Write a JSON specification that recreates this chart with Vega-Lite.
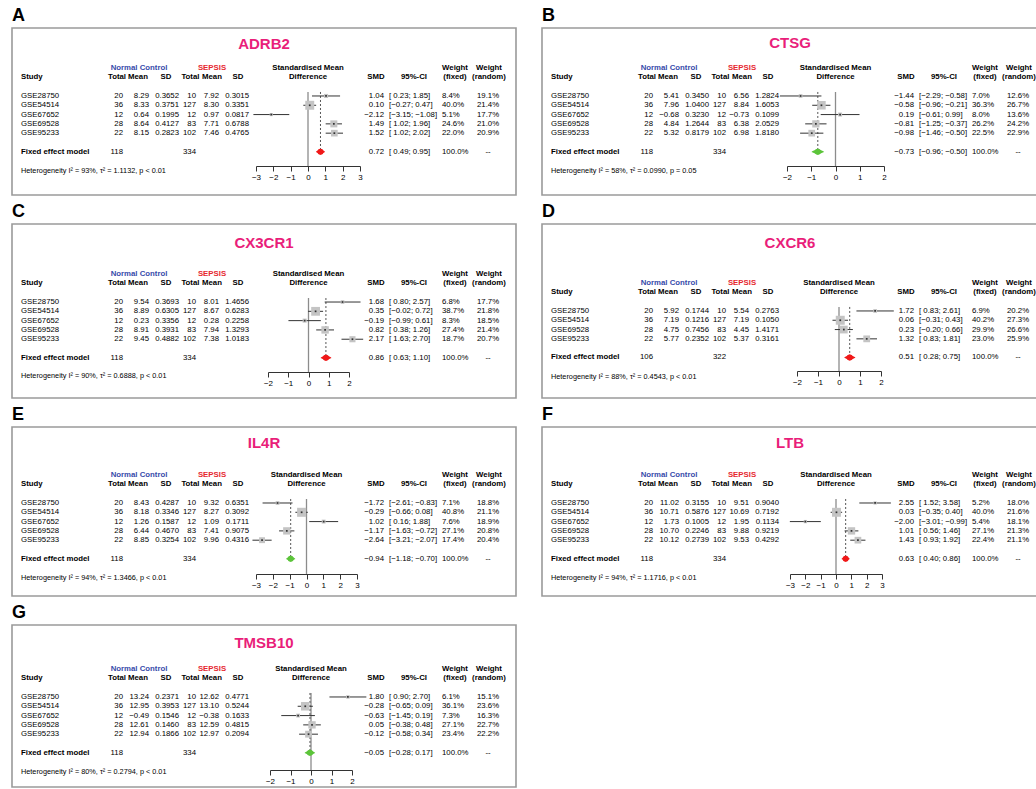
{
"$schema": "https://vega.github.io/schema/vega-lite/v6.json",
"background": "white",
"padding": {"left": 11, "top": 6, "right": 0, "bottom": 0},
"spacing": 6,
"datasets": {
"A": [
{"Study":"GSE28750","n1":20,"m1":8.29,"s1":0.3652,"n2":10,"m2":7.92,"s2":0.3015,"smd":1.04,"lo":0.23,"hi":1.85,"wf":8.4,"wr":19.1},
{"Study":"GSE54514","n1":36,"m1":8.33,"s1":0.3751,"n2":127,"m2":8.30,"s2":0.3351,"smd":0.10,"lo":-0.27,"hi":0.47,"wf":40.0,"wr":21.4},
{"Study":"GSE67652","n1":12,"m1":0.64,"s1":0.1995,"n2":12,"m2":0.97,"s2":0.0817,"smd":-2.12,"lo":-3.15,"hi":-1.08,"wf":5.1,"wr":17.7},
{"Study":"GSE69528","n1":28,"m1":8.64,"s1":0.4127,"n2":83,"m2":7.71,"s2":0.6788,"smd":1.49,"lo":1.02,"hi":1.96,"wf":24.6,"wr":21.0},
{"Study":"GSE95233","n1":22,"m1":8.15,"s1":0.2823,"n2":102,"m2":7.46,"s2":0.4765,"smd":1.52,"lo":1.02,"hi":2.02,"wf":22.0,"wr":20.9}],
"A_fixed": [{"n1":118,"n2":334,"smd":0.72,"lo":0.49,"hi":0.95,"I2":93,"tau2":1.1132,"p":"p < 0.01"}],
"B": [
{"Study":"GSE28750","n1":20,"m1":5.41,"s1":0.3450,"n2":10,"m2":6.56,"s2":1.2824,"smd":-1.44,"lo":-2.29,"hi":-0.58,"wf":7.0,"wr":12.6},
{"Study":"GSE54514","n1":36,"m1":7.96,"s1":1.0400,"n2":127,"m2":8.84,"s2":1.6053,"smd":-0.58,"lo":-0.96,"hi":-0.21,"wf":36.3,"wr":26.7},
{"Study":"GSE67652","n1":12,"m1":-0.68,"s1":0.3230,"n2":12,"m2":-0.73,"s2":0.1099,"smd":0.19,"lo":-0.61,"hi":0.99,"wf":8.0,"wr":13.6},
{"Study":"GSE69528","n1":28,"m1":4.84,"s1":1.2644,"n2":83,"m2":6.38,"s2":2.0529,"smd":-0.81,"lo":-1.25,"hi":-0.37,"wf":26.2,"wr":24.2},
{"Study":"GSE95233","n1":22,"m1":5.32,"s1":0.8179,"n2":102,"m2":6.98,"s2":1.8180,"smd":-0.98,"lo":-1.46,"hi":-0.50,"wf":22.5,"wr":22.9}],
"B_fixed": [{"n1":118,"n2":334,"smd":-0.73,"lo":-0.96,"hi":-0.50,"I2":58,"tau2":0.0990,"p":"p = 0.05"}],
"C": [
{"Study":"GSE28750","n1":20,"m1":9.54,"s1":0.3693,"n2":10,"m2":8.01,"s2":1.4656,"smd":1.68,"lo":0.80,"hi":2.57,"wf":6.8,"wr":17.7},
{"Study":"GSE54514","n1":36,"m1":8.89,"s1":0.6305,"n2":127,"m2":8.67,"s2":0.6283,"smd":0.35,"lo":-0.02,"hi":0.72,"wf":38.7,"wr":21.8},
{"Study":"GSE67652","n1":12,"m1":0.23,"s1":0.3356,"n2":12,"m2":0.28,"s2":0.2258,"smd":-0.19,"lo":-0.99,"hi":0.61,"wf":8.3,"wr":18.5},
{"Study":"GSE69528","n1":28,"m1":8.91,"s1":0.3931,"n2":83,"m2":7.94,"s2":1.3293,"smd":0.82,"lo":0.38,"hi":1.26,"wf":27.4,"wr":21.4},
{"Study":"GSE95233","n1":22,"m1":9.45,"s1":0.4882,"n2":102,"m2":7.38,"s2":1.0183,"smd":2.17,"lo":1.63,"hi":2.70,"wf":18.7,"wr":20.7}],
"C_fixed": [{"n1":118,"n2":334,"smd":0.86,"lo":0.63,"hi":1.10,"I2":90,"tau2":0.6888,"p":"p < 0.01"}],
"D": [
{"Study":"GSE28750","n1":20,"m1":5.92,"s1":0.1744,"n2":10,"m2":5.54,"s2":0.2763,"smd":1.72,"lo":0.83,"hi":2.61,"wf":6.9,"wr":20.2},
{"Study":"GSE54514","n1":36,"m1":7.19,"s1":0.1216,"n2":127,"m2":7.19,"s2":0.1050,"smd":0.06,"lo":-0.31,"hi":0.43,"wf":40.2,"wr":27.3},
{"Study":"GSE69528","n1":28,"m1":4.75,"s1":0.7456,"n2":83,"m2":4.45,"s2":1.4171,"smd":0.23,"lo":-0.20,"hi":0.66,"wf":29.9,"wr":26.6},
{"Study":"GSE95233","n1":22,"m1":5.77,"s1":0.2352,"n2":102,"m2":5.37,"s2":0.3161,"smd":1.32,"lo":0.83,"hi":1.81,"wf":23.0,"wr":25.9}],
"D_fixed": [{"n1":106,"n2":322,"smd":0.51,"lo":0.28,"hi":0.75,"I2":88,"tau2":0.4543,"p":"p < 0.01"}],
"E": [
{"Study":"GSE28750","n1":20,"m1":8.43,"s1":0.4287,"n2":10,"m2":9.32,"s2":0.6351,"smd":-1.72,"lo":-2.61,"hi":-0.83,"wf":7.1,"wr":18.8},
{"Study":"GSE54514","n1":36,"m1":8.18,"s1":0.3346,"n2":127,"m2":8.27,"s2":0.3092,"smd":-0.29,"lo":-0.66,"hi":0.08,"wf":40.8,"wr":21.1},
{"Study":"GSE67652","n1":12,"m1":1.26,"s1":0.1587,"n2":12,"m2":1.09,"s2":0.1711,"smd":1.02,"lo":0.16,"hi":1.88,"wf":7.6,"wr":18.9},
{"Study":"GSE69528","n1":28,"m1":6.44,"s1":0.4670,"n2":83,"m2":7.41,"s2":0.9075,"smd":-1.17,"lo":-1.63,"hi":-0.72,"wf":27.1,"wr":20.8},
{"Study":"GSE95233","n1":22,"m1":8.85,"s1":0.3254,"n2":102,"m2":9.96,"s2":0.4316,"smd":-2.64,"lo":-3.21,"hi":-2.07,"wf":17.4,"wr":20.4}],
"E_fixed": [{"n1":118,"n2":334,"smd":-0.94,"lo":-1.18,"hi":-0.70,"I2":94,"tau2":1.3466,"p":"p < 0.01"}],
"F": [
{"Study":"GSE28750","n1":20,"m1":11.02,"s1":0.3155,"n2":10,"m2":9.51,"s2":0.9040,"smd":2.55,"lo":1.52,"hi":3.58,"wf":5.2,"wr":18.0},
{"Study":"GSE54514","n1":36,"m1":10.71,"s1":0.5876,"n2":127,"m2":10.69,"s2":0.7192,"smd":0.03,"lo":-0.35,"hi":0.40,"wf":40.0,"wr":21.6},
{"Study":"GSE67652","n1":12,"m1":1.73,"s1":0.1005,"n2":12,"m2":1.95,"s2":0.1134,"smd":-2.00,"lo":-3.01,"hi":-0.99,"wf":5.4,"wr":18.1},
{"Study":"GSE69528","n1":28,"m1":10.70,"s1":0.2246,"n2":83,"m2":9.88,"s2":0.9219,"smd":1.01,"lo":0.56,"hi":1.46,"wf":27.1,"wr":21.3},
{"Study":"GSE95233","n1":22,"m1":10.12,"s1":0.2739,"n2":102,"m2":9.53,"s2":0.4292,"smd":1.43,"lo":0.93,"hi":1.92,"wf":22.4,"wr":21.1}],
"F_fixed": [{"n1":118,"n2":334,"smd":0.63,"lo":0.40,"hi":0.86,"I2":94,"tau2":1.1716,"p":"p < 0.01"}],
"G": [
{"Study":"GSE28750","n1":20,"m1":13.24,"s1":0.2371,"n2":10,"m2":12.62,"s2":0.4771,"smd":1.80,"lo":0.90,"hi":2.70,"wf":6.1,"wr":15.1},
{"Study":"GSE54514","n1":36,"m1":12.95,"s1":0.3953,"n2":127,"m2":13.10,"s2":0.5244,"smd":-0.28,"lo":-0.65,"hi":0.09,"wf":36.1,"wr":23.6},
{"Study":"GSE67652","n1":12,"m1":-0.49,"s1":0.1546,"n2":12,"m2":-0.38,"s2":0.1633,"smd":-0.63,"lo":-1.45,"hi":0.19,"wf":7.3,"wr":16.3},
{"Study":"GSE69528","n1":28,"m1":12.61,"s1":0.1460,"n2":83,"m2":12.59,"s2":0.4815,"smd":0.05,"lo":-0.38,"hi":0.48,"wf":27.1,"wr":22.7},
{"Study":"GSE95233","n1":22,"m1":12.94,"s1":0.1866,"n2":102,"m2":12.97,"s2":0.2094,"smd":-0.12,"lo":-0.58,"hi":0.34,"wf":23.4,"wr":22.2}],
"G_fixed": [{"n1":118,"n2":334,"smd":-0.05,"lo":-0.28,"hi":0.17,"I2":80,"tau2":0.2794,"p":"p < 0.01"}]
},
"vconcat": [
{"hconcat": [
{"title":"A","width":504,"height":167,"resolve":{"scale":{"x":"independent"}},
"layer":[
{"resolve":{"scale":{"size":"independent"}},"layer":[
{"data":{"name":"A_fixed"},"mark":{"type":"rule","color":"#8c8c8c","strokeWidth":1.3},"encoding":{"x":{"datum":0,"type":"quantitative","title":null,"scale":{"domain":[-3,3],"range":[244,348],"zero":false,"nice":false},"axis":{"values":[-3,-2,-1,0,1,2,3],"format":"d","offset":-29,"title":null}},"y":{"datum":0.57,"type":"quantitative","axis":null,"scale":{"domain":[-6.31,11.65],"reverse":true,"zero":false,"nice":false}},"y2":{"datum":8.53}}},
{"data":{"name":"A_fixed"},"mark":{"type":"rule","color":"#555555","strokeDash":[2,2]},"encoding":{"x":{"field":"smd","type":"quantitative","title":null},"y":{"datum":0.57,"axis":null},"y2":{"datum":6.8}}},
{"data":{"name":"A"},"transform":[{"window":[{"op":"row_number","as":"r"}]}],"encoding":{"y":{"field":"r","type":"quantitative","axis":null}},"layer":[
{"mark":{"type":"rule","color":"#333333"},"encoding":{"x":{"field":"lo","type":"quantitative","title":null},"x2":{"field":"hi"}}},
{"mark":{"type":"square","color":"#c4c4c4","opacity":1},"encoding":{"x":{"field":"smd","type":"quantitative","title":null},"size":{"field":"wf","type":"quantitative","scale":{"domain":[0,100],"range":[0,200]},"legend":null}}},
{"mark":{"type":"square","color":"#333333","size":3,"opacity":1},"encoding":{"x":{"field":"smd","type":"quantitative","title":null}}}]},
{"data":{"name":"A_fixed"},"transform":[{"fold":["lo","smd"],"as":["k","v"]}],"mark":{"type":"trail","color":"#f01818"},"encoding":{"x":{"field":"v","type":"quantitative","title":null},"y":{"datum":7,"axis":null},"size":{"field":"k","type":"ordinal","scale":{"type":"point","domain":["lo","smd"],"range":[0,6],"padding":0},"legend":null}}},
{"data":{"name":"A_fixed"},"transform":[{"fold":["hi","smd"],"as":["k","v"]}],"mark":{"type":"trail","color":"#f01818"},"encoding":{"x":{"field":"v","type":"quantitative","title":null},"y":{"datum":7,"axis":null},"size":{"field":"k","type":"ordinal","scale":{"type":"point","domain":["hi","smd"],"range":[0,6],"padding":0},"legend":null}}},
{"data":{"values":[{}]},"mark":{"type":"text","text":"Standardised Mean","fontWeight":"bold"},"encoding":{"x":{"datum":0},"y":{"datum":-2,"axis":null}}},
{"data":{"values":[{}]},"mark":{"type":"text","text":"Difference","fontWeight":"bold"},"encoding":{"x":{"datum":0},"y":{"datum":-1,"axis":null}}}]},
{"layer":[
{"data":{"values":[{}]},"layer":[
{"mark":{"type":"text","text":"ADRB2","fontSize":15,"fontWeight":"bold","color":"#e91e7a"},"encoding":{"x":{"datum":63,"axis":null,"scale":{"domain":[0,126],"zero":false,"nice":false}},"y":{"datum":-4.6,"axis":null}}},
{"encoding":{"y":{"datum":-2,"axis":null}},"layer":[
{"mark":{"type":"text","text":"Normal Control","fontWeight":"bold","color":"#374baa"},"encoding":{"x":{"datum":31.75,"axis":null}}},
{"mark":{"type":"text","text":"SEPSIS","fontWeight":"bold","color":"#e6282f"},"encoding":{"x":{"datum":50,"axis":null}}},
{"mark":{"type":"text","text":"Weight","fontWeight":"bold"},"encoding":{"x":{"datum":110.75,"axis":null}}},
{"mark":{"type":"text","text":"Weight","fontWeight":"bold"},"encoding":{"x":{"datum":119.25,"axis":null}}}]},
{"encoding":{"y":{"datum":-1,"axis":null}},"layer":[
{"mark":{"type":"text","text":"Study","fontWeight":"bold","align":"left"},"encoding":{"x":{"datum":2.25,"axis":null}}},
{"mark":{"type":"text","text":"Total","fontWeight":"bold"},"encoding":{"x":{"datum":26.25,"axis":null}}},
{"mark":{"type":"text","text":"Mean","fontWeight":"bold"},"encoding":{"x":{"datum":31.5,"axis":null}}},
{"mark":{"type":"text","text":"SD","fontWeight":"bold"},"encoding":{"x":{"datum":38.5,"axis":null}}},
{"mark":{"type":"text","text":"Total","fontWeight":"bold"},"encoding":{"x":{"datum":44.6,"axis":null}}},
{"mark":{"type":"text","text":"Mean","fontWeight":"bold"},"encoding":{"x":{"datum":50,"axis":null}}},
{"mark":{"type":"text","text":"SD","fontWeight":"bold"},"encoding":{"x":{"datum":56.5,"axis":null}}},
{"mark":{"type":"text","text":"SMD","fontWeight":"bold"},"encoding":{"x":{"datum":91,"axis":null}}},
{"mark":{"type":"text","text":"95%-CI","fontWeight":"bold"},"encoding":{"x":{"datum":100.5,"axis":null}}},
{"mark":{"type":"text","text":"(fixed)","fontWeight":"bold"},"encoding":{"x":{"datum":110.75,"axis":null}}},
{"mark":{"type":"text","text":"(random)","fontWeight":"bold"},"encoding":{"x":{"datum":119.25,"axis":null}}}]}]},
{"data":{"name":"A"},"transform":[{"window":[{"op":"row_number","as":"r"}]}],"encoding":{"y":{"field":"r","type":"quantitative","axis":null}},"layer":[
{"mark":{"type":"text","align":"left"},"encoding":{"x":{"datum":2.25,"axis":null},"text":{"field":"Study","type":"nominal"}}},
{"mark":{"type":"text","align":"right"},"encoding":{"x":{"datum":27.75,"axis":null},"text":{"field":"n1","type":"quantitative","format":"d"}}},
{"mark":{"type":"text","align":"right"},"encoding":{"x":{"datum":34.25,"axis":null},"text":{"field":"m1","type":"quantitative","format":".2f"}}},
{"mark":{"type":"text","align":"right"},"encoding":{"x":{"datum":41.75,"axis":null},"text":{"field":"s1","type":"quantitative","format":".4f"}}},
{"mark":{"type":"text","align":"right"},"encoding":{"x":{"datum":46,"axis":null},"text":{"field":"n2","type":"quantitative","format":"d"}}},
{"mark":{"type":"text","align":"right"},"encoding":{"x":{"datum":51.75,"axis":null},"text":{"field":"m2","type":"quantitative","format":".2f"}}},
{"mark":{"type":"text","align":"right"},"encoding":{"x":{"datum":59.25,"axis":null},"text":{"field":"s2","type":"quantitative","format":".4f"}}},
{"mark":{"type":"text","align":"right"},"encoding":{"x":{"datum":93,"axis":null},"text":{"field":"smd","type":"quantitative","format":".2f"}}},
{"mark":{"type":"text","align":"left","text":{"expr":"'[' + format(datum.lo, ' .2f') + '; ' + format(datum.hi, ' .2f') + ']'"}},"encoding":{"x":{"datum":94.25,"axis":null}}},
{"mark":{"type":"text","align":"left","text":{"expr":"format(datum.wf, '.1f') + '%'"}},"encoding":{"x":{"datum":107.5,"axis":null}}},
{"mark":{"type":"text","align":"center","text":{"expr":"format(datum.wr, '.1f') + '%'"}},"encoding":{"x":{"datum":119,"axis":null}}}]},
{"data":{"name":"A_fixed"},"encoding":{"y":{"datum":7,"axis":null}},"layer":[
{"mark":{"type":"text","align":"left","text":"Fixed effect model","fontWeight":"bold"},"encoding":{"x":{"datum":2.25,"axis":null}}},
{"mark":{"type":"text","align":"right"},"encoding":{"x":{"datum":27.75,"axis":null},"text":{"field":"n1","type":"quantitative","format":"d"}}},
{"mark":{"type":"text","align":"right"},"encoding":{"x":{"datum":46,"axis":null},"text":{"field":"n2","type":"quantitative","format":"d"}}},
{"mark":{"type":"text","align":"right"},"encoding":{"x":{"datum":93,"axis":null},"text":{"field":"smd","type":"quantitative","format":".2f"}}},
{"mark":{"type":"text","align":"left","text":{"expr":"'[' + format(datum.lo, ' .2f') + '; ' + format(datum.hi, ' .2f') + ']'"}},"encoding":{"x":{"datum":94.25,"axis":null}}},
{"mark":{"type":"text","align":"left","text":"100.0%"},"encoding":{"x":{"datum":107.5,"axis":null}}},
{"mark":{"type":"text","align":"center","text":"--"},"encoding":{"x":{"datum":119,"axis":null}}},
{"mark":{"type":"text","align":"left","fontSize":7.3,"text":{"expr":"'Heterogeneity I² = ' + datum.I2 + '%, τ² = ' + format(datum.tau2, '.4f') + ', ' + datum.p"}},"encoding":{"x":{"datum":2.25,"axis":null},"y":{"datum":9.06,"axis":null}}}]}]}]},
{"title":"B","width":496,"height":167,"resolve":{"scale":{"x":"independent"}},
"layer":[
{"resolve":{"scale":{"size":"independent"}},"layer":[
{"data":{"name":"B_fixed"},"mark":{"type":"rule","color":"#8c8c8c","strokeWidth":1.3},"encoding":{"x":{"datum":0,"type":"quantitative","title":null,"scale":{"domain":[-2,2],"range":[245,342],"zero":false,"nice":false},"axis":{"values":[-2,-1,0,1,2],"format":"d","offset":-29,"title":null}},"y":{"datum":0.57,"type":"quantitative","axis":null,"scale":{"domain":[-6.31,11.65],"reverse":true,"zero":false,"nice":false}},"y2":{"datum":8.53}}},
{"data":{"name":"B_fixed"},"mark":{"type":"rule","color":"#555555","strokeDash":[2,2]},"encoding":{"x":{"field":"smd","type":"quantitative","title":null},"y":{"datum":0.57,"axis":null},"y2":{"datum":6.8}}},
{"data":{"name":"B"},"transform":[{"window":[{"op":"row_number","as":"r"}]}],"encoding":{"y":{"field":"r","type":"quantitative","axis":null}},"layer":[
{"mark":{"type":"rule","color":"#333333"},"encoding":{"x":{"field":"lo","type":"quantitative","title":null},"x2":{"field":"hi"}}},
{"mark":{"type":"square","color":"#c4c4c4","opacity":1},"encoding":{"x":{"field":"smd","type":"quantitative","title":null},"size":{"field":"wf","type":"quantitative","scale":{"domain":[0,100],"range":[0,200]},"legend":null}}},
{"mark":{"type":"square","color":"#333333","size":3,"opacity":1},"encoding":{"x":{"field":"smd","type":"quantitative","title":null}}}]},
{"data":{"name":"B_fixed"},"transform":[{"fold":["lo","smd"],"as":["k","v"]}],"mark":{"type":"trail","color":"#5cc43a"},"encoding":{"x":{"field":"v","type":"quantitative","title":null},"y":{"datum":7,"axis":null},"size":{"field":"k","type":"ordinal","scale":{"type":"point","domain":["lo","smd"],"range":[0,6],"padding":0},"legend":null}}},
{"data":{"name":"B_fixed"},"transform":[{"fold":["hi","smd"],"as":["k","v"]}],"mark":{"type":"trail","color":"#5cc43a"},"encoding":{"x":{"field":"v","type":"quantitative","title":null},"y":{"datum":7,"axis":null},"size":{"field":"k","type":"ordinal","scale":{"type":"point","domain":["hi","smd"],"range":[0,6],"padding":0},"legend":null}}},
{"data":{"values":[{}]},"mark":{"type":"text","text":"Standardised Mean","fontWeight":"bold"},"encoding":{"x":{"datum":0},"y":{"datum":-2,"axis":null}}},
{"data":{"values":[{}]},"mark":{"type":"text","text":"Difference","fontWeight":"bold"},"encoding":{"x":{"datum":0},"y":{"datum":-1,"axis":null}}}]},
{"layer":[
{"data":{"values":[{}]},"layer":[
{"mark":{"type":"text","text":"CTSG","fontSize":15,"fontWeight":"bold","color":"#e91e7a"},"encoding":{"x":{"datum":62,"axis":null,"scale":{"domain":[0,124],"zero":false,"nice":false}},"y":{"datum":-4.7,"axis":null}}},
{"encoding":{"y":{"datum":-2,"axis":null}},"layer":[
{"mark":{"type":"text","text":"Normal Control","fontWeight":"bold","color":"#374baa"},"encoding":{"x":{"datum":31.75,"axis":null}}},
{"mark":{"type":"text","text":"SEPSIS","fontWeight":"bold","color":"#e6282f"},"encoding":{"x":{"datum":50,"axis":null}}},
{"mark":{"type":"text","text":"Weight","fontWeight":"bold"},"encoding":{"x":{"datum":110.75,"axis":null}}},
{"mark":{"type":"text","text":"Weight","fontWeight":"bold"},"encoding":{"x":{"datum":119.25,"axis":null}}}]},
{"encoding":{"y":{"datum":-1,"axis":null}},"layer":[
{"mark":{"type":"text","text":"Study","fontWeight":"bold","align":"left"},"encoding":{"x":{"datum":2.25,"axis":null}}},
{"mark":{"type":"text","text":"Total","fontWeight":"bold"},"encoding":{"x":{"datum":26.25,"axis":null}}},
{"mark":{"type":"text","text":"Mean","fontWeight":"bold"},"encoding":{"x":{"datum":31.5,"axis":null}}},
{"mark":{"type":"text","text":"SD","fontWeight":"bold"},"encoding":{"x":{"datum":38.5,"axis":null}}},
{"mark":{"type":"text","text":"Total","fontWeight":"bold"},"encoding":{"x":{"datum":44.6,"axis":null}}},
{"mark":{"type":"text","text":"Mean","fontWeight":"bold"},"encoding":{"x":{"datum":50,"axis":null}}},
{"mark":{"type":"text","text":"SD","fontWeight":"bold"},"encoding":{"x":{"datum":56.5,"axis":null}}},
{"mark":{"type":"text","text":"SMD","fontWeight":"bold"},"encoding":{"x":{"datum":91,"axis":null}}},
{"mark":{"type":"text","text":"95%-CI","fontWeight":"bold"},"encoding":{"x":{"datum":100.5,"axis":null}}},
{"mark":{"type":"text","text":"(fixed)","fontWeight":"bold"},"encoding":{"x":{"datum":110.75,"axis":null}}},
{"mark":{"type":"text","text":"(random)","fontWeight":"bold"},"encoding":{"x":{"datum":119.25,"axis":null}}}]}]},
{"data":{"name":"B"},"transform":[{"window":[{"op":"row_number","as":"r"}]}],"encoding":{"y":{"field":"r","type":"quantitative","axis":null}},"layer":[
{"mark":{"type":"text","align":"left"},"encoding":{"x":{"datum":2.25,"axis":null},"text":{"field":"Study","type":"nominal"}}},
{"mark":{"type":"text","align":"right"},"encoding":{"x":{"datum":27.75,"axis":null},"text":{"field":"n1","type":"quantitative","format":"d"}}},
{"mark":{"type":"text","align":"right"},"encoding":{"x":{"datum":34.25,"axis":null},"text":{"field":"m1","type":"quantitative","format":".2f"}}},
{"mark":{"type":"text","align":"right"},"encoding":{"x":{"datum":41.75,"axis":null},"text":{"field":"s1","type":"quantitative","format":".4f"}}},
{"mark":{"type":"text","align":"right"},"encoding":{"x":{"datum":46,"axis":null},"text":{"field":"n2","type":"quantitative","format":"d"}}},
{"mark":{"type":"text","align":"right"},"encoding":{"x":{"datum":51.75,"axis":null},"text":{"field":"m2","type":"quantitative","format":".2f"}}},
{"mark":{"type":"text","align":"right"},"encoding":{"x":{"datum":59.25,"axis":null},"text":{"field":"s2","type":"quantitative","format":".4f"}}},
{"mark":{"type":"text","align":"right"},"encoding":{"x":{"datum":93,"axis":null},"text":{"field":"smd","type":"quantitative","format":".2f"}}},
{"mark":{"type":"text","align":"left","text":{"expr":"'[' + format(datum.lo, ' .2f') + '; ' + format(datum.hi, ' .2f') + ']'"}},"encoding":{"x":{"datum":94.25,"axis":null}}},
{"mark":{"type":"text","align":"left","text":{"expr":"format(datum.wf, '.1f') + '%'"}},"encoding":{"x":{"datum":107.5,"axis":null}}},
{"mark":{"type":"text","align":"center","text":{"expr":"format(datum.wr, '.1f') + '%'"}},"encoding":{"x":{"datum":119,"axis":null}}}]},
{"data":{"name":"B_fixed"},"encoding":{"y":{"datum":7,"axis":null}},"layer":[
{"mark":{"type":"text","align":"left","text":"Fixed effect model","fontWeight":"bold"},"encoding":{"x":{"datum":2.25,"axis":null}}},
{"mark":{"type":"text","align":"right"},"encoding":{"x":{"datum":27.75,"axis":null},"text":{"field":"n1","type":"quantitative","format":"d"}}},
{"mark":{"type":"text","align":"right"},"encoding":{"x":{"datum":46,"axis":null},"text":{"field":"n2","type":"quantitative","format":"d"}}},
{"mark":{"type":"text","align":"right"},"encoding":{"x":{"datum":93,"axis":null},"text":{"field":"smd","type":"quantitative","format":".2f"}}},
{"mark":{"type":"text","align":"left","text":{"expr":"'[' + format(datum.lo, ' .2f') + '; ' + format(datum.hi, ' .2f') + ']'"}},"encoding":{"x":{"datum":94.25,"axis":null}}},
{"mark":{"type":"text","align":"left","text":"100.0%"},"encoding":{"x":{"datum":107.5,"axis":null}}},
{"mark":{"type":"text","align":"center","text":"--"},"encoding":{"x":{"datum":119,"axis":null}}},
{"mark":{"type":"text","align":"left","fontSize":7.3,"text":{"expr":"'Heterogeneity I² = ' + datum.I2 + '%, τ² = ' + format(datum.tau2, '.4f') + ', ' + datum.p"}},"encoding":{"x":{"datum":2.25,"axis":null},"y":{"datum":9.06,"axis":null}}}]}]}]}
],"spacing":24},
{"hconcat": [
{"title":"C","width":504,"height":174,"resolve":{"scale":{"x":"independent"}},
"layer":[
{"resolve":{"scale":{"size":"independent"}},"layer":[
{"data":{"name":"C_fixed"},"mark":{"type":"rule","color":"#8c8c8c","strokeWidth":1.3},"encoding":{"x":{"datum":0,"type":"quantitative","title":null,"scale":{"domain":[-2,2],"range":[256,337],"zero":false,"nice":false},"axis":{"values":[-2,-1,0,1,2],"format":"d","offset":-26,"title":null}},"y":{"datum":0.57,"type":"quantitative","axis":null,"scale":{"domain":[-7.39,11.32],"reverse":true,"zero":false,"nice":false}},"y2":{"datum":8.53}}},
{"data":{"name":"C_fixed"},"mark":{"type":"rule","color":"#555555","strokeDash":[2,2]},"encoding":{"x":{"field":"smd","type":"quantitative","title":null},"y":{"datum":0.57,"axis":null},"y2":{"datum":6.8}}},
{"data":{"name":"C"},"transform":[{"window":[{"op":"row_number","as":"r"}]}],"encoding":{"y":{"field":"r","type":"quantitative","axis":null}},"layer":[
{"mark":{"type":"rule","color":"#333333"},"encoding":{"x":{"field":"lo","type":"quantitative","title":null},"x2":{"field":"hi"}}},
{"mark":{"type":"square","color":"#c4c4c4","opacity":1},"encoding":{"x":{"field":"smd","type":"quantitative","title":null},"size":{"field":"wf","type":"quantitative","scale":{"domain":[0,100],"range":[0,200]},"legend":null}}},
{"mark":{"type":"square","color":"#333333","size":3,"opacity":1},"encoding":{"x":{"field":"smd","type":"quantitative","title":null}}}]},
{"data":{"name":"C_fixed"},"transform":[{"fold":["lo","smd"],"as":["k","v"]}],"mark":{"type":"trail","color":"#f01818"},"encoding":{"x":{"field":"v","type":"quantitative","title":null},"y":{"datum":7,"axis":null},"size":{"field":"k","type":"ordinal","scale":{"type":"point","domain":["lo","smd"],"range":[0,6],"padding":0},"legend":null}}},
{"data":{"name":"C_fixed"},"transform":[{"fold":["hi","smd"],"as":["k","v"]}],"mark":{"type":"trail","color":"#f01818"},"encoding":{"x":{"field":"v","type":"quantitative","title":null},"y":{"datum":7,"axis":null},"size":{"field":"k","type":"ordinal","scale":{"type":"point","domain":["hi","smd"],"range":[0,6],"padding":0},"legend":null}}},
{"data":{"values":[{}]},"mark":{"type":"text","text":"Standardised Mean","fontWeight":"bold"},"encoding":{"x":{"datum":0},"y":{"datum":-2,"axis":null}}},
{"data":{"values":[{}]},"mark":{"type":"text","text":"Difference","fontWeight":"bold"},"encoding":{"x":{"datum":0},"y":{"datum":-1,"axis":null}}}]},
{"layer":[
{"data":{"values":[{}]},"layer":[
{"mark":{"type":"text","text":"CX3CR1","fontSize":15,"fontWeight":"bold","color":"#e91e7a"},"encoding":{"x":{"datum":63,"axis":null,"scale":{"domain":[0,126],"zero":false,"nice":false}},"y":{"datum":-5.34,"axis":null}}},
{"encoding":{"y":{"datum":-2,"axis":null}},"layer":[
{"mark":{"type":"text","text":"Normal Control","fontWeight":"bold","color":"#374baa"},"encoding":{"x":{"datum":31.75,"axis":null}}},
{"mark":{"type":"text","text":"SEPSIS","fontWeight":"bold","color":"#e6282f"},"encoding":{"x":{"datum":50,"axis":null}}},
{"mark":{"type":"text","text":"Weight","fontWeight":"bold"},"encoding":{"x":{"datum":110.75,"axis":null}}},
{"mark":{"type":"text","text":"Weight","fontWeight":"bold"},"encoding":{"x":{"datum":119.25,"axis":null}}}]},
{"encoding":{"y":{"datum":-1,"axis":null}},"layer":[
{"mark":{"type":"text","text":"Study","fontWeight":"bold","align":"left"},"encoding":{"x":{"datum":2.25,"axis":null}}},
{"mark":{"type":"text","text":"Total","fontWeight":"bold"},"encoding":{"x":{"datum":26.25,"axis":null}}},
{"mark":{"type":"text","text":"Mean","fontWeight":"bold"},"encoding":{"x":{"datum":31.5,"axis":null}}},
{"mark":{"type":"text","text":"SD","fontWeight":"bold"},"encoding":{"x":{"datum":38.5,"axis":null}}},
{"mark":{"type":"text","text":"Total","fontWeight":"bold"},"encoding":{"x":{"datum":44.6,"axis":null}}},
{"mark":{"type":"text","text":"Mean","fontWeight":"bold"},"encoding":{"x":{"datum":50,"axis":null}}},
{"mark":{"type":"text","text":"SD","fontWeight":"bold"},"encoding":{"x":{"datum":56.5,"axis":null}}},
{"mark":{"type":"text","text":"SMD","fontWeight":"bold"},"encoding":{"x":{"datum":91,"axis":null}}},
{"mark":{"type":"text","text":"95%-CI","fontWeight":"bold"},"encoding":{"x":{"datum":100.5,"axis":null}}},
{"mark":{"type":"text","text":"(fixed)","fontWeight":"bold"},"encoding":{"x":{"datum":110.75,"axis":null}}},
{"mark":{"type":"text","text":"(random)","fontWeight":"bold"},"encoding":{"x":{"datum":119.25,"axis":null}}}]}]},
{"data":{"name":"C"},"transform":[{"window":[{"op":"row_number","as":"r"}]}],"encoding":{"y":{"field":"r","type":"quantitative","axis":null}},"layer":[
{"mark":{"type":"text","align":"left"},"encoding":{"x":{"datum":2.25,"axis":null},"text":{"field":"Study","type":"nominal"}}},
{"mark":{"type":"text","align":"right"},"encoding":{"x":{"datum":27.75,"axis":null},"text":{"field":"n1","type":"quantitative","format":"d"}}},
{"mark":{"type":"text","align":"right"},"encoding":{"x":{"datum":34.25,"axis":null},"text":{"field":"m1","type":"quantitative","format":".2f"}}},
{"mark":{"type":"text","align":"right"},"encoding":{"x":{"datum":41.75,"axis":null},"text":{"field":"s1","type":"quantitative","format":".4f"}}},
{"mark":{"type":"text","align":"right"},"encoding":{"x":{"datum":46,"axis":null},"text":{"field":"n2","type":"quantitative","format":"d"}}},
{"mark":{"type":"text","align":"right"},"encoding":{"x":{"datum":51.75,"axis":null},"text":{"field":"m2","type":"quantitative","format":".2f"}}},
{"mark":{"type":"text","align":"right"},"encoding":{"x":{"datum":59.25,"axis":null},"text":{"field":"s2","type":"quantitative","format":".4f"}}},
{"mark":{"type":"text","align":"right"},"encoding":{"x":{"datum":93,"axis":null},"text":{"field":"smd","type":"quantitative","format":".2f"}}},
{"mark":{"type":"text","align":"left","text":{"expr":"'[' + format(datum.lo, ' .2f') + '; ' + format(datum.hi, ' .2f') + ']'"}},"encoding":{"x":{"datum":94.25,"axis":null}}},
{"mark":{"type":"text","align":"left","text":{"expr":"format(datum.wf, '.1f') + '%'"}},"encoding":{"x":{"datum":107.5,"axis":null}}},
{"mark":{"type":"text","align":"center","text":{"expr":"format(datum.wr, '.1f') + '%'"}},"encoding":{"x":{"datum":119,"axis":null}}}]},
{"data":{"name":"C_fixed"},"encoding":{"y":{"datum":7,"axis":null}},"layer":[
{"mark":{"type":"text","align":"left","text":"Fixed effect model","fontWeight":"bold"},"encoding":{"x":{"datum":2.25,"axis":null}}},
{"mark":{"type":"text","align":"right"},"encoding":{"x":{"datum":27.75,"axis":null},"text":{"field":"n1","type":"quantitative","format":"d"}}},
{"mark":{"type":"text","align":"right"},"encoding":{"x":{"datum":46,"axis":null},"text":{"field":"n2","type":"quantitative","format":"d"}}},
{"mark":{"type":"text","align":"right"},"encoding":{"x":{"datum":93,"axis":null},"text":{"field":"smd","type":"quantitative","format":".2f"}}},
{"mark":{"type":"text","align":"left","text":{"expr":"'[' + format(datum.lo, ' .2f') + '; ' + format(datum.hi, ' .2f') + ']'"}},"encoding":{"x":{"datum":94.25,"axis":null}}},
{"mark":{"type":"text","align":"left","text":"100.0%"},"encoding":{"x":{"datum":107.5,"axis":null}}},
{"mark":{"type":"text","align":"center","text":"--"},"encoding":{"x":{"datum":119,"axis":null}}},
{"mark":{"type":"text","align":"left","fontSize":7.3,"text":{"expr":"'Heterogeneity I² = ' + datum.I2 + '%, τ² = ' + format(datum.tau2, '.4f') + ', ' + datum.p"}},"encoding":{"x":{"datum":2.25,"axis":null},"y":{"datum":8.96,"axis":null}}}]}]}]},
{"title":"D","width":496,"height":174,"resolve":{"scale":{"x":"independent"}},
"layer":[
{"resolve":{"scale":{"size":"independent"}},"layer":[
{"data":{"name":"D_fixed"},"mark":{"type":"rule","color":"#8c8c8c","strokeWidth":1.3},"encoding":{"x":{"datum":0,"type":"quantitative","title":null,"scale":{"domain":[-2,2],"range":[255,339],"zero":false,"nice":false},"axis":{"values":[-2,-1,0,1,2],"format":"d","offset":-27,"title":null}},"y":{"datum":0.57,"type":"quantitative","axis":null,"scale":{"domain":[-8.35,10.36],"reverse":true,"zero":false,"nice":false}},"y2":{"datum":7.45}}},
{"data":{"name":"D_fixed"},"mark":{"type":"rule","color":"#555555","strokeDash":[2,2]},"encoding":{"x":{"field":"smd","type":"quantitative","title":null},"y":{"datum":0.57,"axis":null},"y2":{"datum":5.8}}},
{"data":{"name":"D"},"transform":[{"window":[{"op":"row_number","as":"r"}]}],"encoding":{"y":{"field":"r","type":"quantitative","axis":null}},"layer":[
{"mark":{"type":"rule","color":"#333333"},"encoding":{"x":{"field":"lo","type":"quantitative","title":null},"x2":{"field":"hi"}}},
{"mark":{"type":"square","color":"#c4c4c4","opacity":1},"encoding":{"x":{"field":"smd","type":"quantitative","title":null},"size":{"field":"wf","type":"quantitative","scale":{"domain":[0,100],"range":[0,200]},"legend":null}}},
{"mark":{"type":"square","color":"#333333","size":3,"opacity":1},"encoding":{"x":{"field":"smd","type":"quantitative","title":null}}}]},
{"data":{"name":"D_fixed"},"transform":[{"fold":["lo","smd"],"as":["k","v"]}],"mark":{"type":"trail","color":"#f01818"},"encoding":{"x":{"field":"v","type":"quantitative","title":null},"y":{"datum":6,"axis":null},"size":{"field":"k","type":"ordinal","scale":{"type":"point","domain":["lo","smd"],"range":[0,6],"padding":0},"legend":null}}},
{"data":{"name":"D_fixed"},"transform":[{"fold":["hi","smd"],"as":["k","v"]}],"mark":{"type":"trail","color":"#f01818"},"encoding":{"x":{"field":"v","type":"quantitative","title":null},"y":{"datum":6,"axis":null},"size":{"field":"k","type":"ordinal","scale":{"type":"point","domain":["hi","smd"],"range":[0,6],"padding":0},"legend":null}}},
{"data":{"values":[{}]},"mark":{"type":"text","text":"Standardised Mean","fontWeight":"bold"},"encoding":{"x":{"datum":0},"y":{"datum":-2,"axis":null}}},
{"data":{"values":[{}]},"mark":{"type":"text","text":"Difference","fontWeight":"bold"},"encoding":{"x":{"datum":0},"y":{"datum":-1,"axis":null}}}]},
{"layer":[
{"data":{"values":[{}]},"layer":[
{"mark":{"type":"text","text":"CXCR6","fontSize":15,"fontWeight":"bold","color":"#e91e7a"},"encoding":{"x":{"datum":62,"axis":null,"scale":{"domain":[0,124],"zero":false,"nice":false}},"y":{"datum":-6.31,"axis":null}}},
{"encoding":{"y":{"datum":-2,"axis":null}},"layer":[
{"mark":{"type":"text","text":"Normal Control","fontWeight":"bold","color":"#374baa"},"encoding":{"x":{"datum":31.75,"axis":null}}},
{"mark":{"type":"text","text":"SEPSIS","fontWeight":"bold","color":"#e6282f"},"encoding":{"x":{"datum":50,"axis":null}}},
{"mark":{"type":"text","text":"Weight","fontWeight":"bold"},"encoding":{"x":{"datum":110.75,"axis":null}}},
{"mark":{"type":"text","text":"Weight","fontWeight":"bold"},"encoding":{"x":{"datum":119.25,"axis":null}}}]},
{"encoding":{"y":{"datum":-1,"axis":null}},"layer":[
{"mark":{"type":"text","text":"Study","fontWeight":"bold","align":"left"},"encoding":{"x":{"datum":2.25,"axis":null}}},
{"mark":{"type":"text","text":"Total","fontWeight":"bold"},"encoding":{"x":{"datum":26.25,"axis":null}}},
{"mark":{"type":"text","text":"Mean","fontWeight":"bold"},"encoding":{"x":{"datum":31.5,"axis":null}}},
{"mark":{"type":"text","text":"SD","fontWeight":"bold"},"encoding":{"x":{"datum":38.5,"axis":null}}},
{"mark":{"type":"text","text":"Total","fontWeight":"bold"},"encoding":{"x":{"datum":44.6,"axis":null}}},
{"mark":{"type":"text","text":"Mean","fontWeight":"bold"},"encoding":{"x":{"datum":50,"axis":null}}},
{"mark":{"type":"text","text":"SD","fontWeight":"bold"},"encoding":{"x":{"datum":56.5,"axis":null}}},
{"mark":{"type":"text","text":"SMD","fontWeight":"bold"},"encoding":{"x":{"datum":91,"axis":null}}},
{"mark":{"type":"text","text":"95%-CI","fontWeight":"bold"},"encoding":{"x":{"datum":100.5,"axis":null}}},
{"mark":{"type":"text","text":"(fixed)","fontWeight":"bold"},"encoding":{"x":{"datum":110.75,"axis":null}}},
{"mark":{"type":"text","text":"(random)","fontWeight":"bold"},"encoding":{"x":{"datum":119.25,"axis":null}}}]}]},
{"data":{"name":"D"},"transform":[{"window":[{"op":"row_number","as":"r"}]}],"encoding":{"y":{"field":"r","type":"quantitative","axis":null}},"layer":[
{"mark":{"type":"text","align":"left"},"encoding":{"x":{"datum":2.25,"axis":null},"text":{"field":"Study","type":"nominal"}}},
{"mark":{"type":"text","align":"right"},"encoding":{"x":{"datum":27.75,"axis":null},"text":{"field":"n1","type":"quantitative","format":"d"}}},
{"mark":{"type":"text","align":"right"},"encoding":{"x":{"datum":34.25,"axis":null},"text":{"field":"m1","type":"quantitative","format":".2f"}}},
{"mark":{"type":"text","align":"right"},"encoding":{"x":{"datum":41.75,"axis":null},"text":{"field":"s1","type":"quantitative","format":".4f"}}},
{"mark":{"type":"text","align":"right"},"encoding":{"x":{"datum":46,"axis":null},"text":{"field":"n2","type":"quantitative","format":"d"}}},
{"mark":{"type":"text","align":"right"},"encoding":{"x":{"datum":51.75,"axis":null},"text":{"field":"m2","type":"quantitative","format":".2f"}}},
{"mark":{"type":"text","align":"right"},"encoding":{"x":{"datum":59.25,"axis":null},"text":{"field":"s2","type":"quantitative","format":".4f"}}},
{"mark":{"type":"text","align":"right"},"encoding":{"x":{"datum":93,"axis":null},"text":{"field":"smd","type":"quantitative","format":".2f"}}},
{"mark":{"type":"text","align":"left","text":{"expr":"'[' + format(datum.lo, ' .2f') + '; ' + format(datum.hi, ' .2f') + ']'"}},"encoding":{"x":{"datum":94.25,"axis":null}}},
{"mark":{"type":"text","align":"left","text":{"expr":"format(datum.wf, '.1f') + '%'"}},"encoding":{"x":{"datum":107.5,"axis":null}}},
{"mark":{"type":"text","align":"center","text":{"expr":"format(datum.wr, '.1f') + '%'"}},"encoding":{"x":{"datum":119,"axis":null}}}]},
{"data":{"name":"D_fixed"},"encoding":{"y":{"datum":6,"axis":null}},"layer":[
{"mark":{"type":"text","align":"left","text":"Fixed effect model","fontWeight":"bold"},"encoding":{"x":{"datum":2.25,"axis":null}}},
{"mark":{"type":"text","align":"right"},"encoding":{"x":{"datum":27.75,"axis":null},"text":{"field":"n1","type":"quantitative","format":"d"}}},
{"mark":{"type":"text","align":"right"},"encoding":{"x":{"datum":46,"axis":null},"text":{"field":"n2","type":"quantitative","format":"d"}}},
{"mark":{"type":"text","align":"right"},"encoding":{"x":{"datum":93,"axis":null},"text":{"field":"smd","type":"quantitative","format":".2f"}}},
{"mark":{"type":"text","align":"left","text":{"expr":"'[' + format(datum.lo, ' .2f') + '; ' + format(datum.hi, ' .2f') + ']'"}},"encoding":{"x":{"datum":94.25,"axis":null}}},
{"mark":{"type":"text","align":"left","text":"100.0%"},"encoding":{"x":{"datum":107.5,"axis":null}}},
{"mark":{"type":"text","align":"center","text":"--"},"encoding":{"x":{"datum":119,"axis":null}}},
{"mark":{"type":"text","align":"left","fontSize":7.3,"text":{"expr":"'Heterogeneity I² = ' + datum.I2 + '%, τ² = ' + format(datum.tau2, '.4f') + ', ' + datum.p"}},"encoding":{"x":{"datum":2.25,"axis":null},"y":{"datum":8.1,"axis":null}}}]}]}]}
],"spacing":24},
{"hconcat": [
{"title":"E","width":504,"height":169,"resolve":{"scale":{"x":"independent"}},
"layer":[
{"resolve":{"scale":{"size":"independent"}},"layer":[
{"data":{"name":"E_fixed"},"mark":{"type":"rule","color":"#8c8c8c","strokeWidth":1.3},"encoding":{"x":{"datum":0,"type":"quantitative","title":null,"scale":{"domain":[-3,3],"range":[244,345],"zero":false,"nice":false},"axis":{"values":[-3,-2,-1,0,1,2,3],"format":"d","offset":-22,"title":null}},"y":{"datum":0.57,"type":"quantitative","axis":null,"scale":{"domain":[-7.17,11.0],"reverse":true,"zero":false,"nice":false}},"y2":{"datum":8.63}}},
{"data":{"name":"E_fixed"},"mark":{"type":"rule","color":"#555555","strokeDash":[2,2]},"encoding":{"x":{"field":"smd","type":"quantitative","title":null},"y":{"datum":0.57,"axis":null},"y2":{"datum":6.8}}},
{"data":{"name":"E"},"transform":[{"window":[{"op":"row_number","as":"r"}]}],"encoding":{"y":{"field":"r","type":"quantitative","axis":null}},"layer":[
{"mark":{"type":"rule","color":"#333333"},"encoding":{"x":{"field":"lo","type":"quantitative","title":null},"x2":{"field":"hi"}}},
{"mark":{"type":"square","color":"#c4c4c4","opacity":1},"encoding":{"x":{"field":"smd","type":"quantitative","title":null},"size":{"field":"wf","type":"quantitative","scale":{"domain":[0,100],"range":[0,200]},"legend":null}}},
{"mark":{"type":"square","color":"#333333","size":3,"opacity":1},"encoding":{"x":{"field":"smd","type":"quantitative","title":null}}}]},
{"data":{"name":"E_fixed"},"transform":[{"fold":["lo","smd"],"as":["k","v"]}],"mark":{"type":"trail","color":"#5cc43a"},"encoding":{"x":{"field":"v","type":"quantitative","title":null},"y":{"datum":7,"axis":null},"size":{"field":"k","type":"ordinal","scale":{"type":"point","domain":["lo","smd"],"range":[0,6],"padding":0},"legend":null}}},
{"data":{"name":"E_fixed"},"transform":[{"fold":["hi","smd"],"as":["k","v"]}],"mark":{"type":"trail","color":"#5cc43a"},"encoding":{"x":{"field":"v","type":"quantitative","title":null},"y":{"datum":7,"axis":null},"size":{"field":"k","type":"ordinal","scale":{"type":"point","domain":["hi","smd"],"range":[0,6],"padding":0},"legend":null}}},
{"data":{"values":[{}]},"mark":{"type":"text","text":"Standardised Mean","fontWeight":"bold"},"encoding":{"x":{"datum":0},"y":{"datum":-2,"axis":null}}},
{"data":{"values":[{}]},"mark":{"type":"text","text":"Difference","fontWeight":"bold"},"encoding":{"x":{"datum":0},"y":{"datum":-1,"axis":null}}}]},
{"layer":[
{"data":{"values":[{}]},"layer":[
{"mark":{"type":"text","text":"IL4R","fontSize":15,"fontWeight":"bold","color":"#e91e7a"},"encoding":{"x":{"datum":63,"axis":null,"scale":{"domain":[0,126],"zero":false,"nice":false}},"y":{"datum":-5.45,"axis":null}}},
{"encoding":{"y":{"datum":-2,"axis":null}},"layer":[
{"mark":{"type":"text","text":"Normal Control","fontWeight":"bold","color":"#374baa"},"encoding":{"x":{"datum":31.75,"axis":null}}},
{"mark":{"type":"text","text":"SEPSIS","fontWeight":"bold","color":"#e6282f"},"encoding":{"x":{"datum":50,"axis":null}}},
{"mark":{"type":"text","text":"Weight","fontWeight":"bold"},"encoding":{"x":{"datum":110.75,"axis":null}}},
{"mark":{"type":"text","text":"Weight","fontWeight":"bold"},"encoding":{"x":{"datum":119.25,"axis":null}}}]},
{"encoding":{"y":{"datum":-1,"axis":null}},"layer":[
{"mark":{"type":"text","text":"Study","fontWeight":"bold","align":"left"},"encoding":{"x":{"datum":2.25,"axis":null}}},
{"mark":{"type":"text","text":"Total","fontWeight":"bold"},"encoding":{"x":{"datum":26.25,"axis":null}}},
{"mark":{"type":"text","text":"Mean","fontWeight":"bold"},"encoding":{"x":{"datum":31.5,"axis":null}}},
{"mark":{"type":"text","text":"SD","fontWeight":"bold"},"encoding":{"x":{"datum":38.5,"axis":null}}},
{"mark":{"type":"text","text":"Total","fontWeight":"bold"},"encoding":{"x":{"datum":44.6,"axis":null}}},
{"mark":{"type":"text","text":"Mean","fontWeight":"bold"},"encoding":{"x":{"datum":50,"axis":null}}},
{"mark":{"type":"text","text":"SD","fontWeight":"bold"},"encoding":{"x":{"datum":56.5,"axis":null}}},
{"mark":{"type":"text","text":"SMD","fontWeight":"bold"},"encoding":{"x":{"datum":91,"axis":null}}},
{"mark":{"type":"text","text":"95%-CI","fontWeight":"bold"},"encoding":{"x":{"datum":100.5,"axis":null}}},
{"mark":{"type":"text","text":"(fixed)","fontWeight":"bold"},"encoding":{"x":{"datum":110.75,"axis":null}}},
{"mark":{"type":"text","text":"(random)","fontWeight":"bold"},"encoding":{"x":{"datum":119.25,"axis":null}}}]}]},
{"data":{"name":"E"},"transform":[{"window":[{"op":"row_number","as":"r"}]}],"encoding":{"y":{"field":"r","type":"quantitative","axis":null}},"layer":[
{"mark":{"type":"text","align":"left"},"encoding":{"x":{"datum":2.25,"axis":null},"text":{"field":"Study","type":"nominal"}}},
{"mark":{"type":"text","align":"right"},"encoding":{"x":{"datum":27.75,"axis":null},"text":{"field":"n1","type":"quantitative","format":"d"}}},
{"mark":{"type":"text","align":"right"},"encoding":{"x":{"datum":34.25,"axis":null},"text":{"field":"m1","type":"quantitative","format":".2f"}}},
{"mark":{"type":"text","align":"right"},"encoding":{"x":{"datum":41.75,"axis":null},"text":{"field":"s1","type":"quantitative","format":".4f"}}},
{"mark":{"type":"text","align":"right"},"encoding":{"x":{"datum":46,"axis":null},"text":{"field":"n2","type":"quantitative","format":"d"}}},
{"mark":{"type":"text","align":"right"},"encoding":{"x":{"datum":51.75,"axis":null},"text":{"field":"m2","type":"quantitative","format":".2f"}}},
{"mark":{"type":"text","align":"right"},"encoding":{"x":{"datum":59.25,"axis":null},"text":{"field":"s2","type":"quantitative","format":".4f"}}},
{"mark":{"type":"text","align":"right"},"encoding":{"x":{"datum":93,"axis":null},"text":{"field":"smd","type":"quantitative","format":".2f"}}},
{"mark":{"type":"text","align":"left","text":{"expr":"'[' + format(datum.lo, ' .2f') + '; ' + format(datum.hi, ' .2f') + ']'"}},"encoding":{"x":{"datum":94.25,"axis":null}}},
{"mark":{"type":"text","align":"left","text":{"expr":"format(datum.wf, '.1f') + '%'"}},"encoding":{"x":{"datum":107.5,"axis":null}}},
{"mark":{"type":"text","align":"center","text":{"expr":"format(datum.wr, '.1f') + '%'"}},"encoding":{"x":{"datum":119,"axis":null}}}]},
{"data":{"name":"E_fixed"},"encoding":{"y":{"datum":7,"axis":null}},"layer":[
{"mark":{"type":"text","align":"left","text":"Fixed effect model","fontWeight":"bold"},"encoding":{"x":{"datum":2.25,"axis":null}}},
{"mark":{"type":"text","align":"right"},"encoding":{"x":{"datum":27.75,"axis":null},"text":{"field":"n1","type":"quantitative","format":"d"}}},
{"mark":{"type":"text","align":"right"},"encoding":{"x":{"datum":46,"axis":null},"text":{"field":"n2","type":"quantitative","format":"d"}}},
{"mark":{"type":"text","align":"right"},"encoding":{"x":{"datum":93,"axis":null},"text":{"field":"smd","type":"quantitative","format":".2f"}}},
{"mark":{"type":"text","align":"left","text":{"expr":"'[' + format(datum.lo, ' .2f') + '; ' + format(datum.hi, ' .2f') + ']'"}},"encoding":{"x":{"datum":94.25,"axis":null}}},
{"mark":{"type":"text","align":"left","text":"100.0%"},"encoding":{"x":{"datum":107.5,"axis":null}}},
{"mark":{"type":"text","align":"center","text":"--"},"encoding":{"x":{"datum":119,"axis":null}}},
{"mark":{"type":"text","align":"left","fontSize":7.3,"text":{"expr":"'Heterogeneity I² = ' + datum.I2 + '%, τ² = ' + format(datum.tau2, '.4f') + ', ' + datum.p"}},"encoding":{"x":{"datum":2.25,"axis":null},"y":{"datum":9.06,"axis":null}}}]}]}]},
{"title":"F","width":496,"height":169,"resolve":{"scale":{"x":"independent"}},
"layer":[
{"resolve":{"scale":{"size":"independent"}},"layer":[
{"data":{"name":"F_fixed"},"mark":{"type":"rule","color":"#8c8c8c","strokeWidth":1.3},"encoding":{"x":{"datum":0,"type":"quantitative","title":null,"scale":{"domain":[-3,3],"range":[248,340],"zero":false,"nice":false},"axis":{"values":[-3,-2,-1,0,1,2,3],"format":"d","offset":-22,"title":null}},"y":{"datum":0.57,"type":"quantitative","axis":null,"scale":{"domain":[-7.17,11.0],"reverse":true,"zero":false,"nice":false}},"y2":{"datum":8.63}}},
{"data":{"name":"F_fixed"},"mark":{"type":"rule","color":"#555555","strokeDash":[2,2]},"encoding":{"x":{"field":"smd","type":"quantitative","title":null},"y":{"datum":0.57,"axis":null},"y2":{"datum":6.8}}},
{"data":{"name":"F"},"transform":[{"window":[{"op":"row_number","as":"r"}]}],"encoding":{"y":{"field":"r","type":"quantitative","axis":null}},"layer":[
{"mark":{"type":"rule","color":"#333333"},"encoding":{"x":{"field":"lo","type":"quantitative","title":null},"x2":{"field":"hi"}}},
{"mark":{"type":"square","color":"#c4c4c4","opacity":1},"encoding":{"x":{"field":"smd","type":"quantitative","title":null},"size":{"field":"wf","type":"quantitative","scale":{"domain":[0,100],"range":[0,200]},"legend":null}}},
{"mark":{"type":"square","color":"#333333","size":3,"opacity":1},"encoding":{"x":{"field":"smd","type":"quantitative","title":null}}}]},
{"data":{"name":"F_fixed"},"transform":[{"fold":["lo","smd"],"as":["k","v"]}],"mark":{"type":"trail","color":"#f01818"},"encoding":{"x":{"field":"v","type":"quantitative","title":null},"y":{"datum":7,"axis":null},"size":{"field":"k","type":"ordinal","scale":{"type":"point","domain":["lo","smd"],"range":[0,6],"padding":0},"legend":null}}},
{"data":{"name":"F_fixed"},"transform":[{"fold":["hi","smd"],"as":["k","v"]}],"mark":{"type":"trail","color":"#f01818"},"encoding":{"x":{"field":"v","type":"quantitative","title":null},"y":{"datum":7,"axis":null},"size":{"field":"k","type":"ordinal","scale":{"type":"point","domain":["hi","smd"],"range":[0,6],"padding":0},"legend":null}}},
{"data":{"values":[{}]},"mark":{"type":"text","text":"Standardised Mean","fontWeight":"bold"},"encoding":{"x":{"datum":0},"y":{"datum":-2,"axis":null}}},
{"data":{"values":[{}]},"mark":{"type":"text","text":"Difference","fontWeight":"bold"},"encoding":{"x":{"datum":0},"y":{"datum":-1,"axis":null}}}]},
{"layer":[
{"data":{"values":[{}]},"layer":[
{"mark":{"type":"text","text":"LTB","fontSize":15,"fontWeight":"bold","color":"#e91e7a"},"encoding":{"x":{"datum":62,"axis":null,"scale":{"domain":[0,124],"zero":false,"nice":false}},"y":{"datum":-5.45,"axis":null}}},
{"encoding":{"y":{"datum":-2,"axis":null}},"layer":[
{"mark":{"type":"text","text":"Normal Control","fontWeight":"bold","color":"#374baa"},"encoding":{"x":{"datum":31.75,"axis":null}}},
{"mark":{"type":"text","text":"SEPSIS","fontWeight":"bold","color":"#e6282f"},"encoding":{"x":{"datum":50,"axis":null}}},
{"mark":{"type":"text","text":"Weight","fontWeight":"bold"},"encoding":{"x":{"datum":110.75,"axis":null}}},
{"mark":{"type":"text","text":"Weight","fontWeight":"bold"},"encoding":{"x":{"datum":119.25,"axis":null}}}]},
{"encoding":{"y":{"datum":-1,"axis":null}},"layer":[
{"mark":{"type":"text","text":"Study","fontWeight":"bold","align":"left"},"encoding":{"x":{"datum":2.25,"axis":null}}},
{"mark":{"type":"text","text":"Total","fontWeight":"bold"},"encoding":{"x":{"datum":26.25,"axis":null}}},
{"mark":{"type":"text","text":"Mean","fontWeight":"bold"},"encoding":{"x":{"datum":31.5,"axis":null}}},
{"mark":{"type":"text","text":"SD","fontWeight":"bold"},"encoding":{"x":{"datum":38.5,"axis":null}}},
{"mark":{"type":"text","text":"Total","fontWeight":"bold"},"encoding":{"x":{"datum":44.6,"axis":null}}},
{"mark":{"type":"text","text":"Mean","fontWeight":"bold"},"encoding":{"x":{"datum":50,"axis":null}}},
{"mark":{"type":"text","text":"SD","fontWeight":"bold"},"encoding":{"x":{"datum":56.5,"axis":null}}},
{"mark":{"type":"text","text":"SMD","fontWeight":"bold"},"encoding":{"x":{"datum":91,"axis":null}}},
{"mark":{"type":"text","text":"95%-CI","fontWeight":"bold"},"encoding":{"x":{"datum":100.5,"axis":null}}},
{"mark":{"type":"text","text":"(fixed)","fontWeight":"bold"},"encoding":{"x":{"datum":110.75,"axis":null}}},
{"mark":{"type":"text","text":"(random)","fontWeight":"bold"},"encoding":{"x":{"datum":119.25,"axis":null}}}]}]},
{"data":{"name":"F"},"transform":[{"window":[{"op":"row_number","as":"r"}]}],"encoding":{"y":{"field":"r","type":"quantitative","axis":null}},"layer":[
{"mark":{"type":"text","align":"left"},"encoding":{"x":{"datum":2.25,"axis":null},"text":{"field":"Study","type":"nominal"}}},
{"mark":{"type":"text","align":"right"},"encoding":{"x":{"datum":27.75,"axis":null},"text":{"field":"n1","type":"quantitative","format":"d"}}},
{"mark":{"type":"text","align":"right"},"encoding":{"x":{"datum":34.25,"axis":null},"text":{"field":"m1","type":"quantitative","format":".2f"}}},
{"mark":{"type":"text","align":"right"},"encoding":{"x":{"datum":41.75,"axis":null},"text":{"field":"s1","type":"quantitative","format":".4f"}}},
{"mark":{"type":"text","align":"right"},"encoding":{"x":{"datum":46,"axis":null},"text":{"field":"n2","type":"quantitative","format":"d"}}},
{"mark":{"type":"text","align":"right"},"encoding":{"x":{"datum":51.75,"axis":null},"text":{"field":"m2","type":"quantitative","format":".2f"}}},
{"mark":{"type":"text","align":"right"},"encoding":{"x":{"datum":59.25,"axis":null},"text":{"field":"s2","type":"quantitative","format":".4f"}}},
{"mark":{"type":"text","align":"right"},"encoding":{"x":{"datum":93,"axis":null},"text":{"field":"smd","type":"quantitative","format":".2f"}}},
{"mark":{"type":"text","align":"left","text":{"expr":"'[' + format(datum.lo, ' .2f') + '; ' + format(datum.hi, ' .2f') + ']'"}},"encoding":{"x":{"datum":94.25,"axis":null}}},
{"mark":{"type":"text","align":"left","text":{"expr":"format(datum.wf, '.1f') + '%'"}},"encoding":{"x":{"datum":107.5,"axis":null}}},
{"mark":{"type":"text","align":"center","text":{"expr":"format(datum.wr, '.1f') + '%'"}},"encoding":{"x":{"datum":119,"axis":null}}}]},
{"data":{"name":"F_fixed"},"encoding":{"y":{"datum":7,"axis":null}},"layer":[
{"mark":{"type":"text","align":"left","text":"Fixed effect model","fontWeight":"bold"},"encoding":{"x":{"datum":2.25,"axis":null}}},
{"mark":{"type":"text","align":"right"},"encoding":{"x":{"datum":27.75,"axis":null},"text":{"field":"n1","type":"quantitative","format":"d"}}},
{"mark":{"type":"text","align":"right"},"encoding":{"x":{"datum":46,"axis":null},"text":{"field":"n2","type":"quantitative","format":"d"}}},
{"mark":{"type":"text","align":"right"},"encoding":{"x":{"datum":93,"axis":null},"text":{"field":"smd","type":"quantitative","format":".2f"}}},
{"mark":{"type":"text","align":"left","text":{"expr":"'[' + format(datum.lo, ' .2f') + '; ' + format(datum.hi, ' .2f') + ']'"}},"encoding":{"x":{"datum":94.25,"axis":null}}},
{"mark":{"type":"text","align":"left","text":"100.0%"},"encoding":{"x":{"datum":107.5,"axis":null}}},
{"mark":{"type":"text","align":"center","text":"--"},"encoding":{"x":{"datum":119,"axis":null}}},
{"mark":{"type":"text","align":"left","fontSize":7.3,"text":{"expr":"'Heterogeneity I² = ' + datum.I2 + '%, τ² = ' + format(datum.tau2, '.4f') + ', ' + datum.p"}},"encoding":{"x":{"datum":2.25,"axis":null},"y":{"datum":9.06,"axis":null}}}]}]}]}
],"spacing":24},
{"title":"G","width":504,"height":162,"resolve":{"scale":{"x":"independent"}},
"layer":[
{"resolve":{"scale":{"size":"independent"}},"layer":[
{"data":{"name":"G_fixed"},"mark":{"type":"rule","color":"#8c8c8c","strokeWidth":1.3},"encoding":{"x":{"datum":0,"type":"quantitative","title":null,"scale":{"domain":[-2,2],"range":[258,340],"zero":false,"nice":false},"axis":{"values":[-2,-1,0,1,2],"format":"d","offset":-17,"title":null}},"y":{"datum":0.57,"type":"quantitative","axis":null,"scale":{"domain":[-6.74,10.68],"reverse":true,"zero":false,"nice":false}},"y2":{"datum":8.85}}},
{"data":{"name":"G_fixed"},"mark":{"type":"rule","color":"#555555","strokeDash":[2,2]},"encoding":{"x":{"field":"smd","type":"quantitative","title":null},"y":{"datum":0.57,"axis":null},"y2":{"datum":6.8}}},
{"data":{"name":"G"},"transform":[{"window":[{"op":"row_number","as":"r"}]}],"encoding":{"y":{"field":"r","type":"quantitative","axis":null}},"layer":[
{"mark":{"type":"rule","color":"#333333"},"encoding":{"x":{"field":"lo","type":"quantitative","title":null},"x2":{"field":"hi"}}},
{"mark":{"type":"square","color":"#c4c4c4","opacity":1},"encoding":{"x":{"field":"smd","type":"quantitative","title":null},"size":{"field":"wf","type":"quantitative","scale":{"domain":[0,100],"range":[0,200]},"legend":null}}},
{"mark":{"type":"square","color":"#333333","size":3,"opacity":1},"encoding":{"x":{"field":"smd","type":"quantitative","title":null}}}]},
{"data":{"name":"G_fixed"},"transform":[{"fold":["lo","smd"],"as":["k","v"]}],"mark":{"type":"trail","color":"#5cc43a"},"encoding":{"x":{"field":"v","type":"quantitative","title":null},"y":{"datum":7,"axis":null},"size":{"field":"k","type":"ordinal","scale":{"type":"point","domain":["lo","smd"],"range":[0,6],"padding":0},"legend":null}}},
{"data":{"name":"G_fixed"},"transform":[{"fold":["hi","smd"],"as":["k","v"]}],"mark":{"type":"trail","color":"#5cc43a"},"encoding":{"x":{"field":"v","type":"quantitative","title":null},"y":{"datum":7,"axis":null},"size":{"field":"k","type":"ordinal","scale":{"type":"point","domain":["hi","smd"],"range":[0,6],"padding":0},"legend":null}}},
{"data":{"values":[{}]},"mark":{"type":"text","text":"Standardised Mean","fontWeight":"bold"},"encoding":{"x":{"datum":0},"y":{"datum":-2,"axis":null}}},
{"data":{"values":[{}]},"mark":{"type":"text","text":"Difference","fontWeight":"bold"},"encoding":{"x":{"datum":0},"y":{"datum":-1,"axis":null}}}]},
{"layer":[
{"data":{"values":[{}]},"layer":[
{"mark":{"type":"text","text":"TMSB10","fontSize":15,"fontWeight":"bold","color":"#e91e7a"},"encoding":{"x":{"datum":63,"axis":null,"scale":{"domain":[0,126],"zero":false,"nice":false}},"y":{"datum":-4.81,"axis":null}}},
{"encoding":{"y":{"datum":-2,"axis":null}},"layer":[
{"mark":{"type":"text","text":"Normal Control","fontWeight":"bold","color":"#374baa"},"encoding":{"x":{"datum":31.75,"axis":null}}},
{"mark":{"type":"text","text":"SEPSIS","fontWeight":"bold","color":"#e6282f"},"encoding":{"x":{"datum":50,"axis":null}}},
{"mark":{"type":"text","text":"Weight","fontWeight":"bold"},"encoding":{"x":{"datum":110.75,"axis":null}}},
{"mark":{"type":"text","text":"Weight","fontWeight":"bold"},"encoding":{"x":{"datum":119.25,"axis":null}}}]},
{"encoding":{"y":{"datum":-1,"axis":null}},"layer":[
{"mark":{"type":"text","text":"Study","fontWeight":"bold","align":"left"},"encoding":{"x":{"datum":2.25,"axis":null}}},
{"mark":{"type":"text","text":"Total","fontWeight":"bold"},"encoding":{"x":{"datum":26.25,"axis":null}}},
{"mark":{"type":"text","text":"Mean","fontWeight":"bold"},"encoding":{"x":{"datum":31.5,"axis":null}}},
{"mark":{"type":"text","text":"SD","fontWeight":"bold"},"encoding":{"x":{"datum":38.5,"axis":null}}},
{"mark":{"type":"text","text":"Total","fontWeight":"bold"},"encoding":{"x":{"datum":44.6,"axis":null}}},
{"mark":{"type":"text","text":"Mean","fontWeight":"bold"},"encoding":{"x":{"datum":50,"axis":null}}},
{"mark":{"type":"text","text":"SD","fontWeight":"bold"},"encoding":{"x":{"datum":56.5,"axis":null}}},
{"mark":{"type":"text","text":"SMD","fontWeight":"bold"},"encoding":{"x":{"datum":91,"axis":null}}},
{"mark":{"type":"text","text":"95%-CI","fontWeight":"bold"},"encoding":{"x":{"datum":100.5,"axis":null}}},
{"mark":{"type":"text","text":"(fixed)","fontWeight":"bold"},"encoding":{"x":{"datum":110.75,"axis":null}}},
{"mark":{"type":"text","text":"(random)","fontWeight":"bold"},"encoding":{"x":{"datum":119.25,"axis":null}}}]}]},
{"data":{"name":"G"},"transform":[{"window":[{"op":"row_number","as":"r"}]}],"encoding":{"y":{"field":"r","type":"quantitative","axis":null}},"layer":[
{"mark":{"type":"text","align":"left"},"encoding":{"x":{"datum":2.25,"axis":null},"text":{"field":"Study","type":"nominal"}}},
{"mark":{"type":"text","align":"right"},"encoding":{"x":{"datum":27.75,"axis":null},"text":{"field":"n1","type":"quantitative","format":"d"}}},
{"mark":{"type":"text","align":"right"},"encoding":{"x":{"datum":34.25,"axis":null},"text":{"field":"m1","type":"quantitative","format":".2f"}}},
{"mark":{"type":"text","align":"right"},"encoding":{"x":{"datum":41.75,"axis":null},"text":{"field":"s1","type":"quantitative","format":".4f"}}},
{"mark":{"type":"text","align":"right"},"encoding":{"x":{"datum":46,"axis":null},"text":{"field":"n2","type":"quantitative","format":"d"}}},
{"mark":{"type":"text","align":"right"},"encoding":{"x":{"datum":51.75,"axis":null},"text":{"field":"m2","type":"quantitative","format":".2f"}}},
{"mark":{"type":"text","align":"right"},"encoding":{"x":{"datum":59.25,"axis":null},"text":{"field":"s2","type":"quantitative","format":".4f"}}},
{"mark":{"type":"text","align":"right"},"encoding":{"x":{"datum":93,"axis":null},"text":{"field":"smd","type":"quantitative","format":".2f"}}},
{"mark":{"type":"text","align":"left","text":{"expr":"'[' + format(datum.lo, ' .2f') + '; ' + format(datum.hi, ' .2f') + ']'"}},"encoding":{"x":{"datum":94.25,"axis":null}}},
{"mark":{"type":"text","align":"left","text":{"expr":"format(datum.wf, '.1f') + '%'"}},"encoding":{"x":{"datum":107.5,"axis":null}}},
{"mark":{"type":"text","align":"center","text":{"expr":"format(datum.wr, '.1f') + '%'"}},"encoding":{"x":{"datum":119,"axis":null}}}]},
{"data":{"name":"G_fixed"},"encoding":{"y":{"datum":7,"axis":null}},"layer":[
{"mark":{"type":"text","align":"left","text":"Fixed effect model","fontWeight":"bold"},"encoding":{"x":{"datum":2.25,"axis":null}}},
{"mark":{"type":"text","align":"right"},"encoding":{"x":{"datum":27.75,"axis":null},"text":{"field":"n1","type":"quantitative","format":"d"}}},
{"mark":{"type":"text","align":"right"},"encoding":{"x":{"datum":46,"axis":null},"text":{"field":"n2","type":"quantitative","format":"d"}}},
{"mark":{"type":"text","align":"right"},"encoding":{"x":{"datum":93,"axis":null},"text":{"field":"smd","type":"quantitative","format":".2f"}}},
{"mark":{"type":"text","align":"left","text":{"expr":"'[' + format(datum.lo, ' .2f') + '; ' + format(datum.hi, ' .2f') + ']'"}},"encoding":{"x":{"datum":94.25,"axis":null}}},
{"mark":{"type":"text","align":"left","text":"100.0%"},"encoding":{"x":{"datum":107.5,"axis":null}}},
{"mark":{"type":"text","align":"center","text":"--"},"encoding":{"x":{"datum":119,"axis":null}}},
{"mark":{"type":"text","align":"left","fontSize":7.3,"text":{"expr":"'Heterogeneity I² = ' + datum.I2 + '%, τ² = ' + format(datum.tau2, '.4f') + ', ' + datum.p"}},"encoding":{"x":{"datum":2.25,"axis":null},"y":{"datum":9.06,"axis":null}}}]}]}]}
],
"config": {
"view": {"stroke": "#9a9a9a", "strokeWidth": 1.6},
"text": {"font": "Liberation Sans", "fontSize": 7.8, "baseline": "middle", "color": "#000000"},
"title": {"anchor": "start", "fontSize": 18, "fontWeight": "bold", "font": "Liberation Sans", "color": "#000000", "offset": 3},
"axis": {"grid": false, "domainColor": "#333333", "tickColor": "#333333", "tickSize": 5, "labelFontSize": 8, "labelColor": "#000000", "labelPadding": 2, "labelFont": "Liberation Sans", "labelFlush": false, "labelOverlap": false}
}
}
